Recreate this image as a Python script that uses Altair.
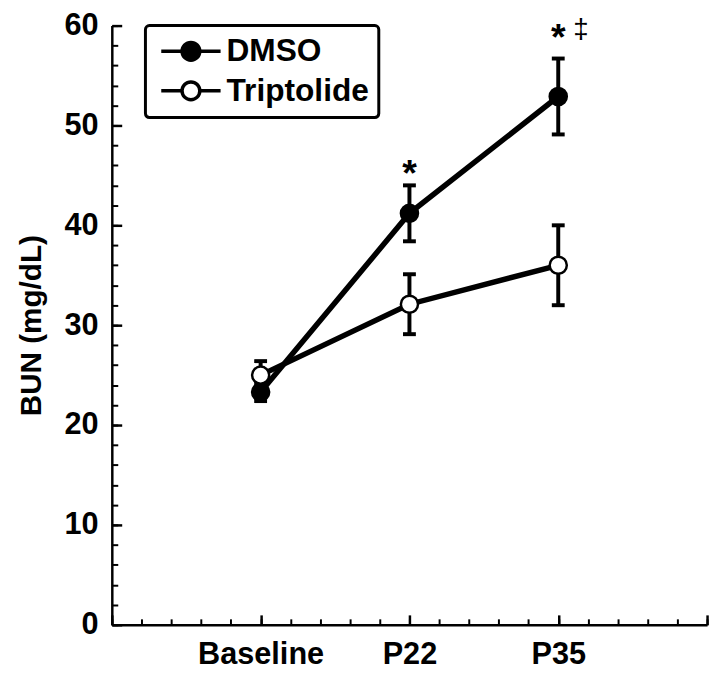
import json
import altair as alt
import pandas as pd

# ---- data ----
timepoints = ["Baseline", "P22", "P35"]
x_positions = [1, 2, 3]
groups = ["DMSO", "Triptolide"]
dmso_mean = [23.3, 41.2, 52.9]
dmso_err = [0.9, 2.8, 3.8]
trip_mean = [25.0, 32.1, 36.0]
trip_err = [1.4, 3.0, 4.0]

star_x = [2, 3]
star_y = [45.8, 59.4]
star_text = ["*", "*"]
dagger_x = [3]
dagger_y = [59.5]
dagger_text = ["\u2021"]

y_major = [0, 10, 20, 30, 40, 50, 60]
y_minor = list(range(0, 61, 2))
x_major = [0, 1, 2, 3, 4]
x_minor = [i / 5 for i in range(0, 21)]

FONT = "Liberation Sans"
W, H = 602, 606

rows = []
for g, means, errs in [("DMSO", dmso_mean, dmso_err), ("Triptolide", trip_mean, trip_err)]:
    for xp, tp, m, e in zip(x_positions, timepoints, means, errs):
        rows.append({"group": g, "x": xp, "time": tp, "mean": m, "lo": m - e, "hi": m + e})
df = pd.DataFrame(rows)
caps = pd.concat([
    df.assign(cap=df["lo"]),
    df.assign(cap=df["hi"]),
])
stars = pd.DataFrame({"x": star_x, "y": star_y, "t": star_text})
dagger = pd.DataFrame({"x": dagger_x, "y": dagger_y, "t": dagger_text})

xs = alt.Scale(domain=[0, 4], nice=False, zero=False)
ys = alt.Scale(domain=[0, 60], nice=False, zero=True)

label_expr = json.dumps(timepoints) + "[datum.value - 1]"

ax_x_labels = alt.Axis(orient="bottom", values=x_positions, labelExpr=label_expr, ticks=False,
                       domain=True, domainWidth=2.5, domainColor="black", grid=False, title=None,
                       labelFont=FONT, labelFontSize=31, labelFontWeight="bold", labelColor="black",
                       labelPadding=15)
ax_y_labels = alt.Axis(orient="left", values=y_major, ticks=False, domain=True, domainWidth=2.5,
                       domainColor="black", grid=False, title="BUN (mg/dL)", titleFont=FONT,
                       titleFontSize=30, titleFontWeight="bold", titleColor="black", titlePadding=18,
                       labelFont=FONT, labelFontSize=31, labelFontWeight="bold", labelColor="black",
                       labelPadding=14)
ax_x_major = alt.Axis(orient="top", offset=-H, values=x_major, labels=False, domain=False, grid=False,
                      ticks=True, tickSize=10, tickWidth=2.5, tickColor="black", title=None)
ax_y_major = alt.Axis(orient="right", offset=-W, values=y_major, labels=False, domain=False, grid=False,
                      ticks=True, tickSize=10, tickWidth=2.5, tickColor="black", title=None)
ax_x_minor = alt.Axis(orient="top", offset=-H, values=x_minor, labels=False, domain=False, grid=False,
                      ticks=True, tickSize=6, tickWidth=2, tickColor="black", title=None)
ax_y_minor = alt.Axis(orient="right", offset=-W, values=y_minor, labels=False, domain=False, grid=False,
                      ticks=True, tickSize=6, tickWidth=2, tickColor="black", title=None)

err = alt.Chart(df).mark_rule(strokeWidth=4, color="black").encode(
    x=alt.X("x:Q", scale=xs, axis=ax_x_labels),
    y=alt.Y("lo:Q", scale=ys, axis=ax_y_labels),
    y2="hi:Q",
)

capmarks = alt.Chart(caps).mark_tick(orient="horizontal", size=13, thickness=4, color="black", opacity=1).encode(
    x=alt.X("x:Q", scale=xs, axis=ax_x_major),
    y=alt.Y("cap:Q", scale=ys, axis=ax_y_major),
    detail="group:N",
)

lines = alt.Chart(df).mark_line(strokeWidth=5.5, color="black").encode(
    x=alt.X("x:Q", scale=xs, axis=ax_x_minor),
    y=alt.Y("mean:Q", scale=ys, axis=ax_y_minor),
    detail="group:N",
)

legend_path = ("M-1,0H1.1 M2.9,0H5 "
               "M1.1,0A0.9,0.9 0 1,1 2.9,0A0.9,0.9 0 1,1 1.1,0Z")

points = alt.Chart(df).mark_point(shape="circle", filled=True, size=300, stroke="black",
                                   strokeWidth=2.5, opacity=1).encode(
    x=alt.X("x:Q", scale=xs, axis=None),
    y=alt.Y("mean:Q", scale=ys, axis=None),
    fill=alt.Fill("group:N", scale=alt.Scale(domain=groups, range=["black", "white"]),
                  legend=alt.Legend(title=None, orient="none", legendX=34, legendY=0,
                                    symbolType=legend_path, symbolSize=400,
                                    symbolStrokeColor="black", symbolStrokeWidth=3.5,
                                    symbolOpacity=1,
                                    labelFont=FONT, labelFontSize=32, labelFontWeight="bold",
                                    labelColor="black", labelOffset=40, rowPadding=6,
                                    padding=10, strokeColor="black", cornerRadius=4,
                                    fillColor="white")),
)

star_layer = alt.Chart(stars).mark_text(font=FONT, fontSize=38, fontWeight="bold", color="black",
                                        baseline="middle", dy=8).encode(
    x=alt.X("x:Q", scale=xs, axis=None),
    y=alt.Y("y:Q", scale=ys, axis=None),
    text="t:N",
)
dagger_layer = alt.Chart(dagger).mark_text(font=FONT, fontSize=28, fontWeight="normal", color="black",
                                           baseline="middle", dx=23, dy=0).encode(
    x=alt.X("x:Q", scale=xs, axis=None),
    y=alt.Y("y:Q", scale=ys, axis=None),
    text="t:N",
)

chart = alt.layer(err, capmarks, lines, points, star_layer, dagger_layer).resolve_axis(
    x="independent", y="independent"
).properties(
    width=W, height=H,
    autosize=alt.AutoSizeParams(type="none"),
    padding={"left": 105, "top": 14, "right": 5, "bottom": 46},
).configure_view(stroke=None).configure_legend(strokeWidth=3)

chart.save("out.html", embed_options={"renderer": "svg", "actions": False})
